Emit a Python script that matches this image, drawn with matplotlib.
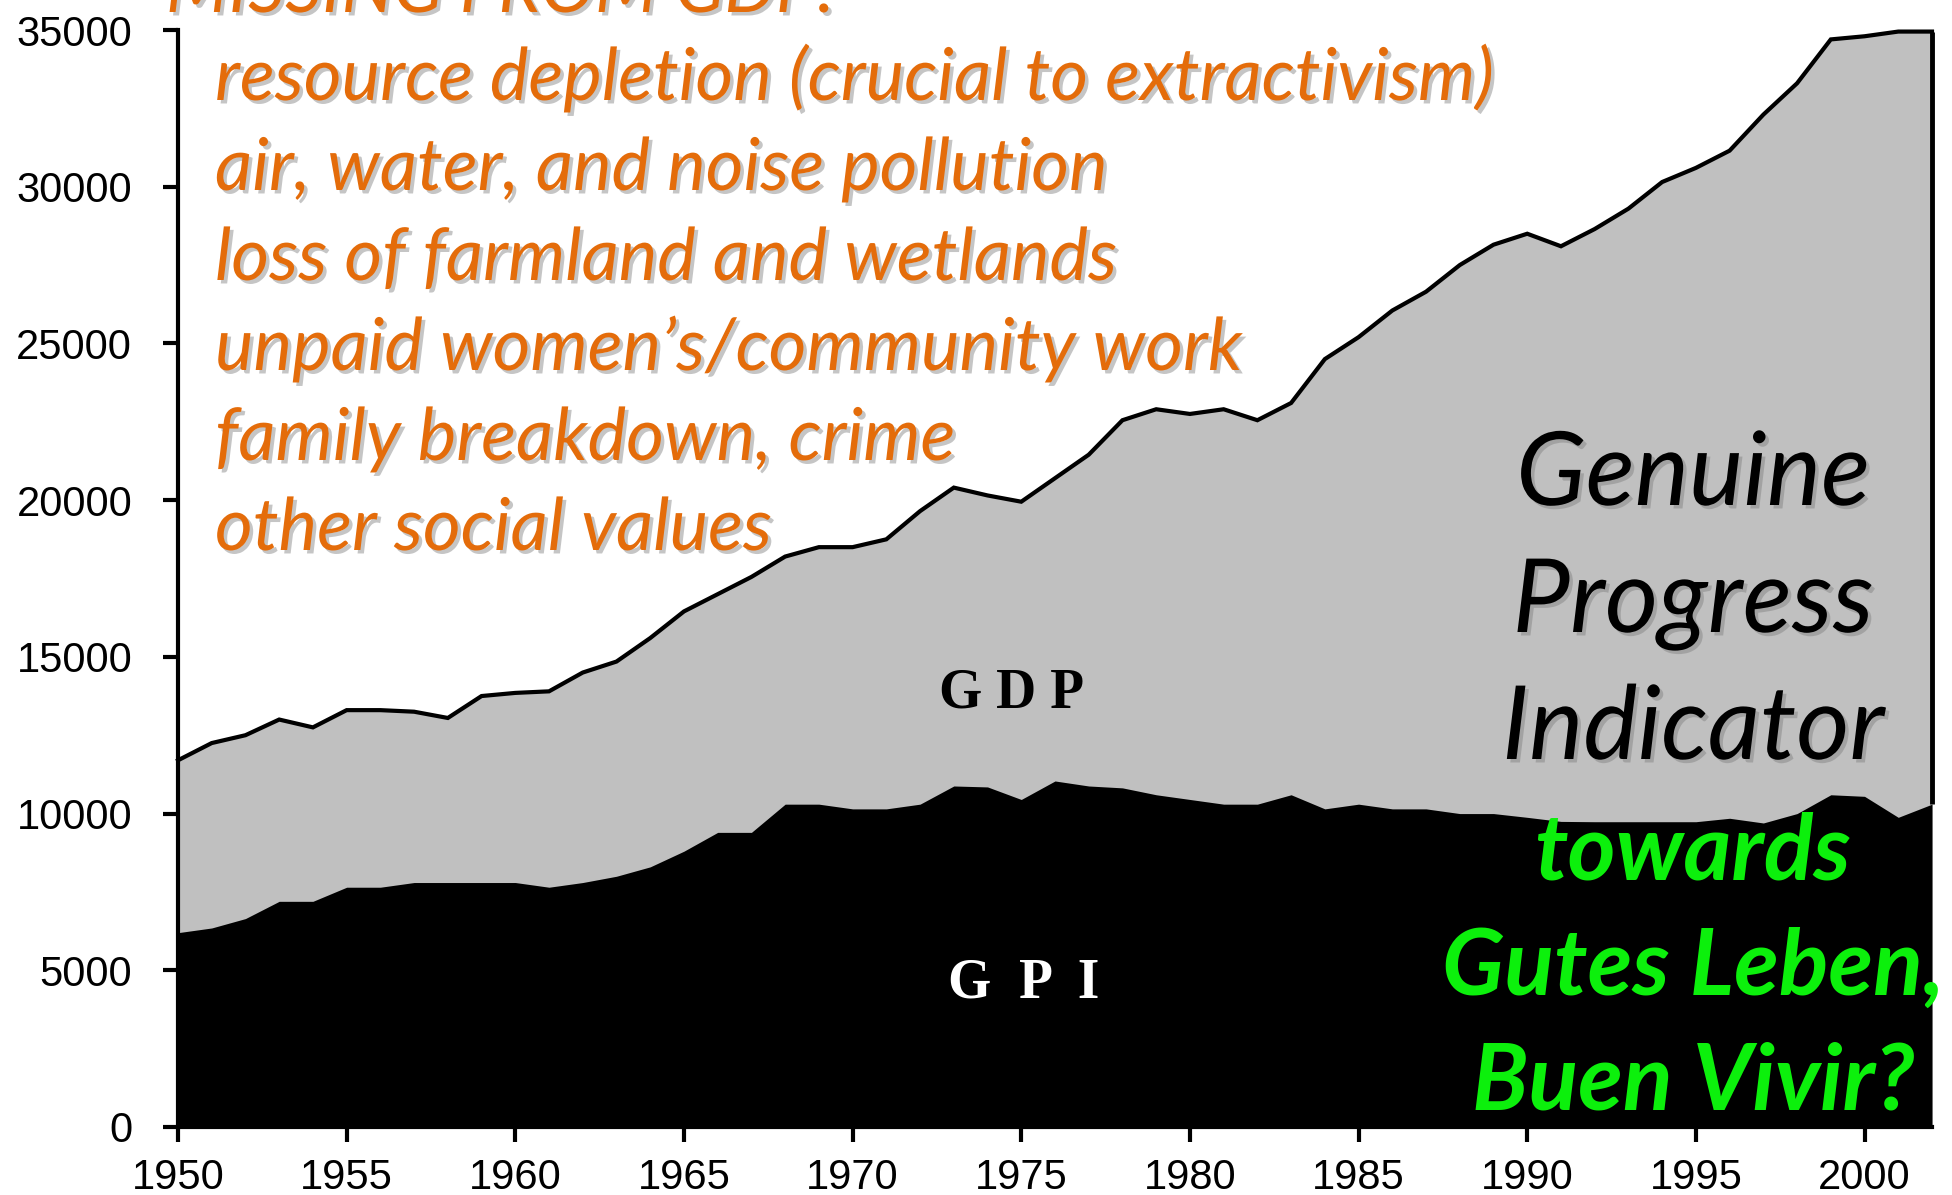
import matplotlib
matplotlib.use('Agg')
import matplotlib.pyplot as plt
import matplotlib.patheffects as pe

# ---------------- data ----------------
years = list(range(1950, 2003))
gdp = [11700, 12250, 12500, 13000, 12750, 13300, 13300, 13250, 13050, 13750,
       13850, 13900, 14500, 14850, 15600, 16450, 17000, 17550, 18200, 18500,
       18500, 18750, 19650, 20400, 20150, 19950, 20700, 21450, 22550, 22900,
       22750, 22900, 22550, 23100, 24500, 25200, 26050, 26650, 27500, 28150,
       28500, 28100, 28650, 29300, 30150, 30600, 31150, 32300, 33300, 34700,
       34800, 34950, 34950]
gpi = [6200, 6350, 6650, 7200, 7200, 7650, 7650, 7800, 7800, 7800,
       7800, 7650, 7800, 8000, 8300, 8800, 9400, 9400, 10300, 10300,
       10150, 10150, 10300, 10880, 10850, 10450, 11040, 10880, 10820, 10600,
       10450, 10300, 10300, 10600, 10150, 10300, 10150, 10150, 10000, 10000,
       9880, 9750, 9740, 9740, 9740, 9740, 9850, 9700, 10000, 10600,
       10550, 9880, 10300]
y_ticks = [0, 5000, 10000, 15000, 20000, 25000, 30000, 35000]
x_ticks = [1950, 1955, 1960, 1965, 1970, 1975, 1980, 1985, 1990, 1995, 2000]

missing_title = "MISSING FROM GDP:"
missing_items = ["resource depletion (crucial to extractivism)",
                 "air, water, and noise pollution",
                 "loss of farmland and wetlands",
                 "unpaid women\u2019s/community work",
                 "family breakdown, crime",
                 "other social values"]
gpi_title = ["Genuine", "Progress", "Indicator"]
green_lines = ["towards", "Gutes Leben,", "Buen Vivir?"]
gdp_label = "G D P"
gpi_label = "G  P  I"

# ---------------- figure ----------------
W, H = 1952, 1195
fig = plt.figure(figsize=(W / 100, H / 100), dpi=100)
L, R, B, T = 178, 1932, 1127, 30
ax = fig.add_axes([L / W, 1 - B / H, (R - L) / W, (B - T) / H])

def fx(x):
    return x / W

def fy(y):
    return 1 - y / H

ax.fill_between(years, 0, gdp, color='#C0C0C0', lw=0, zorder=1)
ax.fill_between(years, 0, gpi, color='black', lw=0, zorder=2)
ax.plot(years, gdp, color='black', lw=3, clip_on=False, zorder=3,
        solid_joinstyle='miter')
ax.vlines(years[-1], gpi[-1], gdp[-1], color='black', lw=3.5, zorder=3,
          clip_on=False)

ax.set_xlim(years[0], years[-1])
ax.set_ylim(0, 35000)
ax.set_xticks(x_ticks)
ax.set_yticks(y_ticks)
ax.set_xticklabels([str(v) for v in x_ticks])
ax.set_yticklabels([str(v) for v in y_ticks])
for s in ['top', 'right']:
    ax.spines[s].set_visible(False)
for s in ['left', 'bottom']:
    ax.spines[s].set_linewidth(3)
    ax.spines[s].set_color('black')
    ax.spines[s].set_zorder(5)
ax.tick_params(axis='both', direction='out', length=11, width=3, color='black')
ax.tick_params(axis='y', pad=22)
ax.tick_params(axis='x', pad=11)
for lab in ax.get_xticklabels() + ax.get_yticklabels():
    lab.set_fontfamily('Liberation Sans')
    lab.set_fontsize(30)

# ---------------- texts ----------------
ORANGE = '#E46C0A'
shadow = [pe.withSimplePatchShadow(offset=(2.5, -2.5), shadow_rgbFace='#7f7f7f', alpha=0.45)]

orange_texts = []
t0 = fig.text(fx(166), fy(12), missing_title, fontsize=50, family='Lato',
              style='italic', color=ORANGE, ha='left', va='baseline',
              path_effects=shadow)
orange_texts.append(t0)
for i, line in enumerate(missing_items):
    t = fig.text(fx(215), fy(100 + 90 * i), line, fontsize=50, family='Lato',
                 style='italic', color=ORANGE, ha='left', va='baseline',
                 path_effects=shadow)
    orange_texts.append(t)

black_texts = []
for i, line in enumerate(gpi_title):
    t = fig.text(fx(1693), fy(505 + 127 * i), line, fontsize=70, family='Lato',
                 style='italic', color='black', ha='center', va='baseline',
                 path_effects=shadow)
    black_texts.append(t)

green_texts = []
for i, line in enumerate(green_lines):
    t = fig.text(fx(1693), fy(880 + 115 * i), line, fontsize=64, family='Lato',
                 style='italic', weight='bold', color='#0CF00C', ha='center',
                 va='baseline')
    green_texts.append(t)

ax.text(1012 / 1, 0, '', transform=None)  # placeholder none
fig.text(fx(1012), fy(708), gdp_label, fontsize=40, family='Liberation Serif',
         weight='bold', color='black', ha='center', va='baseline')
fig.text(fx(1024), fy(998), gpi_label, fontsize=40, family='Liberation Serif',
         weight='bold', color='white', ha='center', va='baseline')

# fit text widths to the reference layout
fig.canvas.draw()
r = fig.canvas.get_renderer()

def fit(group, ref, target):
    w = ref.get_window_extent(r).width
    s = target / w
    for t in group:
        t.set_fontsize(t.get_fontsize() * s)

fit(orange_texts, orange_texts[1], 1280)
fit(black_texts, black_texts[0], 354)
fit(green_texts, green_texts[1], 502)

fig.savefig('out.png', dpi=100)
